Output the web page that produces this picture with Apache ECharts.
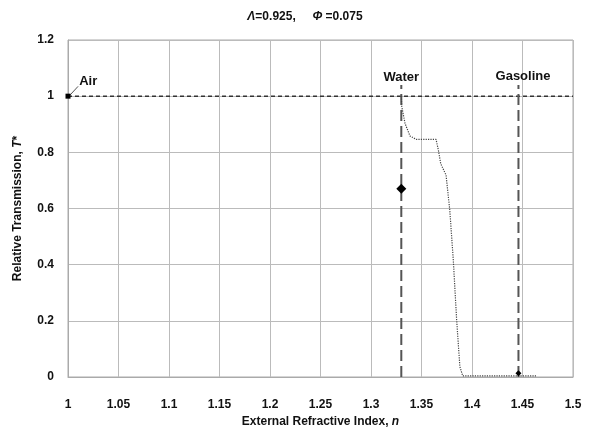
<!DOCTYPE html>
<html>
<head>
<meta charset="utf-8">
<script src="https://cdn.jsdelivr.net/npm/echarts@6/dist/echarts.min.js"></script>
<style>
  html, body { margin: 0; padding: 0; background: #fff; }
  #chart { width: 590px; height: 436px; }
</style>
</head>
<body>
<div id="chart"></div>
<script>
// transmission curve
const curveN = [1.33, 1.3305, 1.3337, 1.3386, 1.345, 1.3644, 1.3667, 1.369, 1.3743, 1.378, 1.3815, 1.3848, 1.388, 1.3908, 1.464];
const curveT = [1.0, 0.962, 0.903, 0.858, 0.846, 0.846, 0.808, 0.76, 0.719, 0.594, 0.416, 0.203, 0.037, 0.004, 0.004];

// measured points (air, water, gasoline)
const pointN = [1.0, 1.33, 1.446];
const pointT = [1.0, 0.67, 0.013];
const pointNames = ['Air', 'Water', 'Gasoline'];
const pointSizes = [5, 10, 6];

// vertical marker lines
const waterN = 1.33;
const gasolineN = 1.446;
const markerTop = 1.04;

const chart = echarts.init(document.getElementById('chart'));
const font = 'Liberation Sans, Arial, sans-serif';

const option = {
  animation: false,
  backgroundColor: '#ffffff',
  title: {
    text: '{g|Λ}=0.925,     {g|Φ} =0.075',
    left: 300,
    textAlign: 'center',
    top: 6,
    textStyle: {
      fontSize: 12, fontWeight: 'bold', color: '#111', fontFamily: font,
      rich: { g: { fontStyle: 'italic', fontWeight: 'bold', fontSize: 12, color: '#111', fontFamily: font } }
    }
  },
  grid: { left: 68, right: 17, top: 40, bottom: 59, show: true, borderColor: '#aaa', borderWidth: 1 },
  xAxis: {
    type: 'value',
    min: 1, max: 1.5, interval: 0.05,
    name: 'External Refractive Index, {i|n}',
    nameLocation: 'middle',
    nameGap: 34,
    nameTextStyle: {
      fontSize: 12, fontWeight: 'bold', color: '#111', fontFamily: font,
      rich: { i: { fontStyle: 'italic', fontWeight: 'bold', fontSize: 12, color: '#111', fontFamily: font } }
    },
    axisLine: { lineStyle: { color: '#aaa' } },
    axisTick: { show: false },
    axisLabel: {
      color: '#111', fontSize: 12, fontWeight: 'bold', fontFamily: font, margin: 22,
      formatter: v => String(parseFloat(v.toFixed(2)))
    },
    splitLine: { lineStyle: { color: '#bbb' } }
  },
  yAxis: {
    type: 'value',
    min: 0, max: 1.2, interval: 0.2,
    name: 'Relative Transmission, {i|T}*',
    nameLocation: 'middle',
    nameGap: 44,
    nameRotate: 90,
    nameTextStyle: {
      fontSize: 12, fontWeight: 'bold', color: '#111', fontFamily: font,
      rich: { i: { fontStyle: 'italic', fontWeight: 'bold', fontSize: 12, color: '#111', fontFamily: font } }
    },
    axisLine: { show: true, lineStyle: { color: '#aaa' } },
    axisTick: { show: false },
    axisLabel: {
      color: '#111', fontSize: 12, fontWeight: 'bold', fontFamily: font, margin: 14,
      formatter: v => String(parseFloat(v.toFixed(1)))
    },
    splitLine: { lineStyle: { color: '#bbb' } }
  },
  series: [
    {
      name: 'unity',
      type: 'line',
      data: [[1, 1], [1.5, 1]],
      symbol: 'none',
      lineStyle: { color: '#333', width: 1.5, type: [4, 3] },
      z: 3
    },
    {
      name: 'water line',
      type: 'line',
      data: [[waterN, 0], [waterN, markerTop]],
      symbol: 'none',
      lineStyle: { color: '#555', width: 2, type: [11, 5] },
      z: 3
    },
    {
      name: 'gasoline line',
      type: 'line',
      data: [[gasolineN, 0], [gasolineN, markerTop]],
      symbol: 'none',
      lineStyle: { color: '#555', width: 2, type: [11, 5] },
      z: 3
    },
    {
      name: 'air leader',
      type: 'line',
      data: [[1.001, 1.0], [1.01, 1.035]],
      symbol: 'none',
      lineStyle: { color: '#555', width: 1 },
      z: 3
    },
    {
      name: 'curve',
      type: 'line',
      data: curveN.map((n, i) => [n, curveT[i]]),
      symbol: 'none',
      lineStyle: { color: '#444', width: 1.2, type: 'dotted' },
      z: 4
    },
    {
      name: 'points',
      type: 'scatter',
      data: pointN.map((n, i) => ({
        value: [n, pointT[i]],
        symbol: i === 0 ? 'rect' : 'diamond',
        symbolSize: pointSizes[i]
      })),
      itemStyle: { color: '#000', opacity: 1 },
      z: 5
    },
    {
      name: 'labels',
      type: 'scatter',
      symbol: 'circle',
      symbolSize: 1,
      itemStyle: { color: 'rgba(0,0,0,0)', opacity: 1 },
      data: [
        { value: [1.02, 1.02], name: pointNames[0] },
        { value: [waterN, 1.035], name: pointNames[1] },
        { value: [gasolineN + 0.0045, 1.04], name: pointNames[2] }
      ],
      label: {
        show: true,
        position: 'top',
        distance: 2,
        formatter: p => p.name,
        color: '#111',
        fontWeight: 'bold',
        fontSize: 13,
        fontFamily: font
      },
      emphasis: { disabled: true },
      z: 6
    }
  ]
};

chart.setOption(option);
</script>
</body>
</html>
